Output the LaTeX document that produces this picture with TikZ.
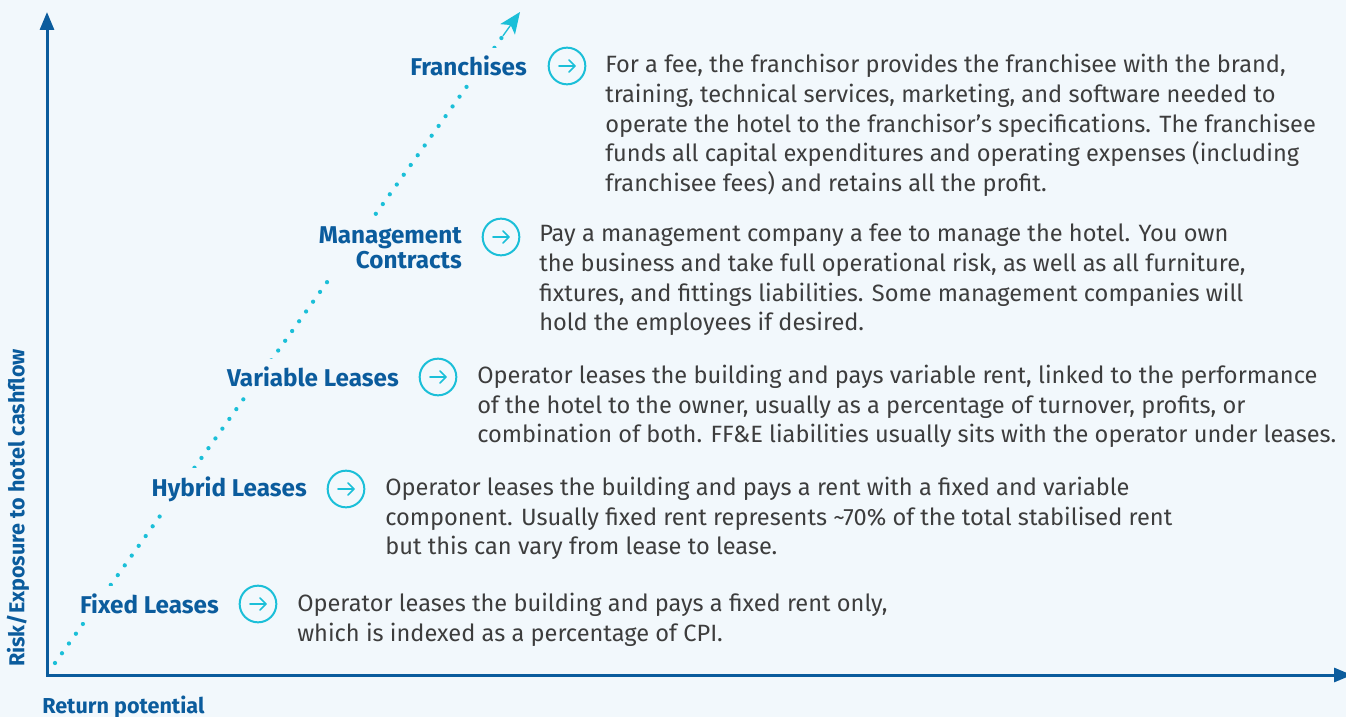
\documentclass[tikz,border=0pt]{standalone}
\usepackage{fontspec}
\setmainfont{Fira Sans}
\usetikzlibrary{arrows.meta,calc}
\definecolor{bgc}{HTML}{F2F8FC}
\definecolor{navy}{HTML}{0B5C9D}
\definecolor{aqua}{HTML}{1BBFD8}
\definecolor{bodyc}{HTML}{3D3D3D}
\begin{document}
\begin{tikzpicture}[x=0.75pt,y=-0.75pt,
  kind/.style={font=\fontsize{18.2}{18.5}\selectfont\bfseries, text=navy, fill=bgc,
    inner xsep=3pt, inner ysep=6pt, align=right, anchor=east},
  desc/.style={font=\fontsize{17.7}{22.3}\selectfont, text=bodyc, anchor=west,
    align=left, inner sep=0pt},
  icon/.style={circle, draw=aqua, line width=1.5pt, minimum size=27.5pt, inner sep=0pt,
    path picture={
      \draw[aqua, line width=1.3pt, line cap=round, line join=round]
        ([xshift=-6pt]path picture bounding box.center) -- ([xshift=6pt]path picture bounding box.center)
        ([xshift=1.5pt,yshift=4.5pt]path picture bounding box.center) -- ([xshift=6pt]path picture bounding box.center)
        -- ([xshift=1.5pt,yshift=-4.5pt]path picture bounding box.center);
    }},
  axislabel/.style={font=\fontsize{16.2}{18}\selectfont\bfseries, text=navy, inner sep=0pt},
  axisline/.style={draw=navy, line width=2.25pt, line join=miter,
    {Triangle[length=13.5pt,width=10.5pt]}-{Triangle[length=13.5pt,width=10.5pt]}},
  dotline/.style={aqua, line width=3.2pt, line cap=round, dash pattern=on 0pt off 9pt},
  dottip/.style={aqua, line width=1pt, -{Stealth[length=16pt,width=13.5pt,inset=4pt]}}
]
% canvas
\fill[bgc] (0,0) rectangle (1346,717);
\useasboundingbox (0,0) rectangle (1346,717);

% axes
\coordinate (O) at (47,675);
\coordinate (ytop) at (47,12);
\coordinate (xend) at (1352,675);
\draw[axisline] (ytop) -- (O) -- (xend);

\node[axislabel, anchor=west] (xlab) at (42,707) {Return potential};
\node[axislabel, rotate=90] (ylab) at (18,508) {Risk/Exposure to hotel cashflow};

% rising dotted trend with a solid head
\coordinate (dotstart) at (55,663);
\coordinate (dotend) at (520,12);
\coordinate (dotstop) at ($(dotend)!17pt!(dotstart)$);
\coordinate (tipbase) at ($(dotend)!22pt!(dotstart)$);
\draw[dotline] (dotstart) -- (dotstop);
\draw[dottip] (tipbase) -- (dotend);

% categories
\node[kind] (fr) at (531,66) {Franchises};
\node[kind] (mc) at (466,248) {Management\\Contracts};
\node[kind] (vl) at (403,377) {Variable Leases};
\node[kind] (hl) at (311,489) {Hybrid Leases};
\node[kind] (fl) at (223,604) {Fixed Leases};

% arrow icons
\node[icon] (frI) at (567,66) {};
\node[icon] (mcI) at (501,237) {};
\node[icon] (vlI) at (438,377) {};
\node[icon] (hlI) at (346,489) {};
\node[icon] (flI) at (258,604) {};

% descriptions
\node[desc] (frT) at (605,125.5) {For a fee, the franchisor provides the franchisee with the brand,\\
training, technical services, marketing, and software needed to\\
operate the hotel to the franchisor’s specifications. The franchisee\\
funds all capital expenditures and operating expenses (including\\
franchisee fees) and retains all the profit.};
\node[desc] (mcT) at (539,280) {Pay a management company a fee to manage the hotel. You own\\
the business and take full operational risk, as well as all furniture,\\
fixtures, and fittings liabilities. Some management companies will\\
hold the employees if desired.};
\node[desc] (vlT) at (477,406.5) {Operator leases the building and pays variable rent, linked to the performance\\
of the hotel to the owner, usually as a percentage of turnover, profits, or\\
combination of both. FF\&E liabilities usually sits with the operator under leases.};
\node[desc] (hlT) at (385,518.5) {Operator leases the building and pays a rent with a fixed and variable\\
component. Usually fixed rent represents \textasciitilde70\% of the total stabilised rent\\
but this can vary from lease to lease.};
\node[desc] (flT) at (297,619.5) {Operator leases the building and pays a fixed rent only,\\
which is indexed as a percentage of CPI.};
\end{tikzpicture}
\end{document}
